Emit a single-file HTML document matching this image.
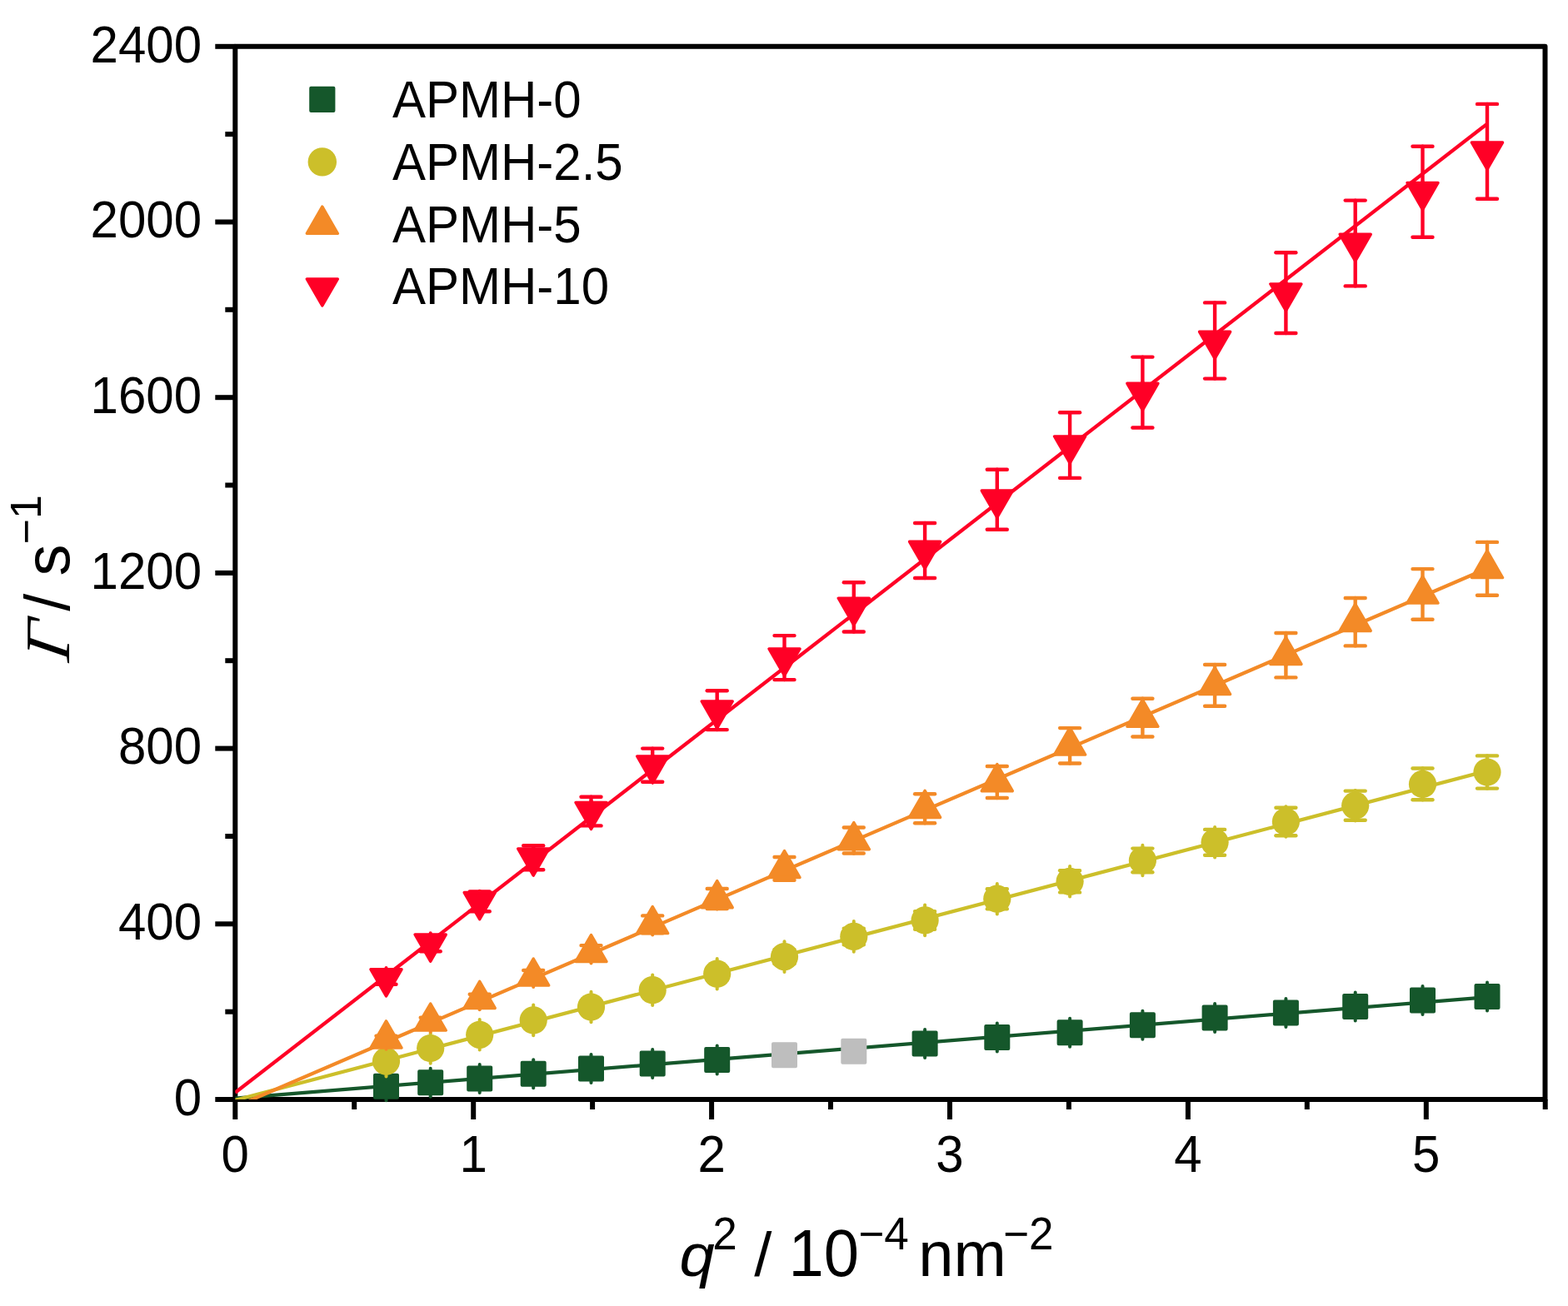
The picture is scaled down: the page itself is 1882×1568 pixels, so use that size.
<!DOCTYPE html>
<html><head><meta charset="utf-8"><title>Gamma vs q2</title>
<style>html,body{margin:0;padding:0;background:#fff;}svg{display:block;}</style>
</head><body>
<svg width="1882" height="1568" viewBox="0 0 1882 1568">
<defs><clipPath id="pc"><rect x="282.3" y="55.8" width="1572.2" height="1264.2"/></clipPath></defs>
<rect width="1882" height="1568" fill="#fff"/>
<g stroke="#000" stroke-width="6" fill="none">
<rect x="282.3" y="55.8" width="1572.2" height="1264.2" stroke-linejoin="round"/>
<line x1="282.3" y1="1320.0" x2="282.3" y2="1344.0"/>
<line x1="425.2" y1="1320.0" x2="425.2" y2="1332.0"/>
<line x1="568.2" y1="1320.0" x2="568.2" y2="1344.0"/>
<line x1="711.1" y1="1320.0" x2="711.1" y2="1332.0"/>
<line x1="854.1" y1="1320.0" x2="854.1" y2="1344.0"/>
<line x1="997.0" y1="1320.0" x2="997.0" y2="1332.0"/>
<line x1="1140.0" y1="1320.0" x2="1140.0" y2="1344.0"/>
<line x1="1282.9" y1="1320.0" x2="1282.9" y2="1332.0"/>
<line x1="1425.9" y1="1320.0" x2="1425.9" y2="1344.0"/>
<line x1="1568.8" y1="1320.0" x2="1568.8" y2="1332.0"/>
<line x1="1711.8" y1="1320.0" x2="1711.8" y2="1344.0"/>
<line x1="1854.7" y1="1320.0" x2="1854.7" y2="1332.0"/>
<line x1="258.3" y1="1320.0" x2="282.3" y2="1320.0"/>
<line x1="270.3" y1="1214.7" x2="282.3" y2="1214.7"/>
<line x1="258.3" y1="1109.3" x2="282.3" y2="1109.3"/>
<line x1="270.3" y1="1004.0" x2="282.3" y2="1004.0"/>
<line x1="258.3" y1="898.6" x2="282.3" y2="898.6"/>
<line x1="270.3" y1="793.2" x2="282.3" y2="793.2"/>
<line x1="258.3" y1="687.9" x2="282.3" y2="687.9"/>
<line x1="270.3" y1="582.5" x2="282.3" y2="582.5"/>
<line x1="258.3" y1="477.2" x2="282.3" y2="477.2"/>
<line x1="270.3" y1="371.8" x2="282.3" y2="371.8"/>
<line x1="258.3" y1="266.5" x2="282.3" y2="266.5"/>
<line x1="270.3" y1="161.1" x2="282.3" y2="161.1"/>
<line x1="258.3" y1="55.8" x2="282.3" y2="55.8"/>
</g>
<g clip-path="url(#pc)" fill="none" stroke-width="4.3" stroke-linecap="butt">
<line x1="282.3" y1="1318.6" x2="1785.0" y2="1197.2" stroke="#15572B"/>
<line x1="282.3" y1="1320.8" x2="1785.0" y2="925.5" stroke="#CCBF2A"/>
<line x1="282.3" y1="1328.8" x2="1785.0" y2="682.5" stroke="#F38A27"/>
<line x1="282.3" y1="1311.8" x2="1785.0" y2="148.7" stroke="#FF0026"/>
</g>
<g>
<line x1="463.5" y1="1287.3" x2="463.5" y2="1321.3" stroke="#15572B" stroke-width="4.0" stroke-linecap="round"/>
<rect x="448.8" y="1289.6" width="29.4" height="29.4" rx="1.2" fill="#15572B" stroke="#15572B" stroke-width="1.6" stroke-linejoin="round"/>
<line x1="516.7" y1="1282.8" x2="516.7" y2="1316.8" stroke="#15572B" stroke-width="4.0" stroke-linecap="round"/>
<rect x="502.0" y="1285.1" width="29.4" height="29.4" rx="1.2" fill="#15572B" stroke="#15572B" stroke-width="1.6" stroke-linejoin="round"/>
<line x1="575.7" y1="1278.0" x2="575.7" y2="1312.0" stroke="#15572B" stroke-width="4.0" stroke-linecap="round"/>
<rect x="561.0" y="1280.3" width="29.4" height="29.4" rx="1.2" fill="#15572B" stroke="#15572B" stroke-width="1.6" stroke-linejoin="round"/>
<line x1="640.2" y1="1272.2" x2="640.2" y2="1306.2" stroke="#15572B" stroke-width="4.0" stroke-linecap="round"/>
<rect x="625.5" y="1274.5" width="29.4" height="29.4" rx="1.2" fill="#15572B" stroke="#15572B" stroke-width="1.6" stroke-linejoin="round"/>
<line x1="709.5" y1="1266.0" x2="709.5" y2="1300.0" stroke="#15572B" stroke-width="4.0" stroke-linecap="round"/>
<rect x="694.8" y="1268.3" width="29.4" height="29.4" rx="1.2" fill="#15572B" stroke="#15572B" stroke-width="1.6" stroke-linejoin="round"/>
<line x1="783.2" y1="1260.0" x2="783.2" y2="1294.0" stroke="#15572B" stroke-width="4.0" stroke-linecap="round"/>
<rect x="768.5" y="1262.3" width="29.4" height="29.4" rx="1.2" fill="#15572B" stroke="#15572B" stroke-width="1.6" stroke-linejoin="round"/>
<line x1="860.7" y1="1255.6" x2="860.7" y2="1289.6" stroke="#15572B" stroke-width="4.0" stroke-linecap="round"/>
<rect x="846.0" y="1257.9" width="29.4" height="29.4" rx="1.2" fill="#15572B" stroke="#15572B" stroke-width="1.6" stroke-linejoin="round"/>
<rect x="926.8" y="1252.1" width="29.4" height="29.4" rx="1.2" fill="#BEBEBE" stroke="#BEBEBE" stroke-width="1.6" stroke-linejoin="round"/>
<rect x="1010.1" y="1247.6" width="29.4" height="29.4" rx="1.2" fill="#BEBEBE" stroke="#BEBEBE" stroke-width="1.6" stroke-linejoin="round"/>
<line x1="1110.1" y1="1236.0" x2="1110.1" y2="1270.0" stroke="#15572B" stroke-width="4.0" stroke-linecap="round"/>
<rect x="1095.4" y="1238.3" width="29.4" height="29.4" rx="1.2" fill="#15572B" stroke="#15572B" stroke-width="1.6" stroke-linejoin="round"/>
<line x1="1196.8" y1="1228.5" x2="1196.8" y2="1262.5" stroke="#15572B" stroke-width="4.0" stroke-linecap="round"/>
<rect x="1182.1" y="1230.8" width="29.4" height="29.4" rx="1.2" fill="#15572B" stroke="#15572B" stroke-width="1.6" stroke-linejoin="round"/>
<line x1="1284.1" y1="1222.8" x2="1284.1" y2="1256.8" stroke="#15572B" stroke-width="4.0" stroke-linecap="round"/>
<rect x="1269.4" y="1225.1" width="29.4" height="29.4" rx="1.2" fill="#15572B" stroke="#15572B" stroke-width="1.6" stroke-linejoin="round"/>
<line x1="1371.4" y1="1213.8" x2="1371.4" y2="1247.8" stroke="#15572B" stroke-width="4.0" stroke-linecap="round"/>
<rect x="1356.7" y="1216.1" width="29.4" height="29.4" rx="1.2" fill="#15572B" stroke="#15572B" stroke-width="1.6" stroke-linejoin="round"/>
<line x1="1458.1" y1="1204.9" x2="1458.1" y2="1238.9" stroke="#15572B" stroke-width="4.0" stroke-linecap="round"/>
<rect x="1443.4" y="1207.2" width="29.4" height="29.4" rx="1.2" fill="#15572B" stroke="#15572B" stroke-width="1.6" stroke-linejoin="round"/>
<line x1="1543.4" y1="1199.0" x2="1543.4" y2="1233.0" stroke="#15572B" stroke-width="4.0" stroke-linecap="round"/>
<rect x="1528.7" y="1201.3" width="29.4" height="29.4" rx="1.2" fill="#15572B" stroke="#15572B" stroke-width="1.6" stroke-linejoin="round"/>
<line x1="1626.7" y1="1191.5" x2="1626.7" y2="1225.5" stroke="#15572B" stroke-width="4.0" stroke-linecap="round"/>
<rect x="1612.0" y="1193.8" width="29.4" height="29.4" rx="1.2" fill="#15572B" stroke="#15572B" stroke-width="1.6" stroke-linejoin="round"/>
<line x1="1707.5" y1="1183.9" x2="1707.5" y2="1217.9" stroke="#15572B" stroke-width="4.0" stroke-linecap="round"/>
<rect x="1692.8" y="1186.2" width="29.4" height="29.4" rx="1.2" fill="#15572B" stroke="#15572B" stroke-width="1.6" stroke-linejoin="round"/>
<line x1="1785.0" y1="1179.4" x2="1785.0" y2="1213.4" stroke="#15572B" stroke-width="4.0" stroke-linecap="round"/>
<rect x="1770.3" y="1181.7" width="29.4" height="29.4" rx="1.2" fill="#15572B" stroke="#15572B" stroke-width="1.6" stroke-linejoin="round"/>
</g>
<g>
<line x1="463.5" y1="1255.9" x2="463.5" y2="1292.5" stroke="#CCBF2A" stroke-width="4.0" stroke-linecap="round"/>
<line x1="463.5" y1="1271.9" x2="463.5" y2="1276.5" stroke="#CCBF2A" stroke-width="4.4" stroke-linecap="round"/><line x1="451.5" y1="1271.9" x2="475.5" y2="1271.9" stroke="#CCBF2A" stroke-width="4.4" stroke-linecap="round"/><line x1="451.5" y1="1276.5" x2="475.5" y2="1276.5" stroke="#CCBF2A" stroke-width="4.4" stroke-linecap="round"/>
<circle cx="463.5" cy="1274.2" r="16.6" fill="#CCBF2A"/>
<line x1="516.7" y1="1240.2" x2="516.7" y2="1276.8" stroke="#CCBF2A" stroke-width="4.0" stroke-linecap="round"/>
<line x1="516.7" y1="1255.4" x2="516.7" y2="1261.6" stroke="#CCBF2A" stroke-width="4.4" stroke-linecap="round"/><line x1="504.7" y1="1255.4" x2="528.7" y2="1255.4" stroke="#CCBF2A" stroke-width="4.4" stroke-linecap="round"/><line x1="504.7" y1="1261.6" x2="528.7" y2="1261.6" stroke="#CCBF2A" stroke-width="4.4" stroke-linecap="round"/>
<circle cx="516.7" cy="1258.5" r="16.6" fill="#CCBF2A"/>
<line x1="575.7" y1="1224.0" x2="575.7" y2="1260.6" stroke="#CCBF2A" stroke-width="4.0" stroke-linecap="round"/>
<line x1="575.7" y1="1238.4" x2="575.7" y2="1246.2" stroke="#CCBF2A" stroke-width="4.4" stroke-linecap="round"/><line x1="563.7" y1="1238.4" x2="587.7" y2="1238.4" stroke="#CCBF2A" stroke-width="4.4" stroke-linecap="round"/><line x1="563.7" y1="1246.2" x2="587.7" y2="1246.2" stroke="#CCBF2A" stroke-width="4.4" stroke-linecap="round"/>
<circle cx="575.7" cy="1242.3" r="16.6" fill="#CCBF2A"/>
<line x1="640.2" y1="1206.6" x2="640.2" y2="1243.2" stroke="#CCBF2A" stroke-width="4.0" stroke-linecap="round"/>
<line x1="640.2" y1="1220.1" x2="640.2" y2="1229.7" stroke="#CCBF2A" stroke-width="4.4" stroke-linecap="round"/><line x1="628.2" y1="1220.1" x2="652.2" y2="1220.1" stroke="#CCBF2A" stroke-width="4.4" stroke-linecap="round"/><line x1="628.2" y1="1229.7" x2="652.2" y2="1229.7" stroke="#CCBF2A" stroke-width="4.4" stroke-linecap="round"/>
<circle cx="640.2" cy="1224.9" r="16.6" fill="#CCBF2A"/>
<line x1="709.5" y1="1190.7" x2="709.5" y2="1227.3" stroke="#CCBF2A" stroke-width="4.0" stroke-linecap="round"/>
<line x1="709.5" y1="1203.5" x2="709.5" y2="1214.5" stroke="#CCBF2A" stroke-width="4.4" stroke-linecap="round"/><line x1="697.5" y1="1203.5" x2="721.5" y2="1203.5" stroke="#CCBF2A" stroke-width="4.4" stroke-linecap="round"/><line x1="697.5" y1="1214.5" x2="721.5" y2="1214.5" stroke="#CCBF2A" stroke-width="4.4" stroke-linecap="round"/>
<circle cx="709.5" cy="1209.0" r="16.6" fill="#CCBF2A"/>
<line x1="783.2" y1="1170.4" x2="783.2" y2="1207.0" stroke="#CCBF2A" stroke-width="4.0" stroke-linecap="round"/>
<line x1="783.2" y1="1182.1" x2="783.2" y2="1195.3" stroke="#CCBF2A" stroke-width="4.4" stroke-linecap="round"/><line x1="771.2" y1="1182.1" x2="795.2" y2="1182.1" stroke="#CCBF2A" stroke-width="4.4" stroke-linecap="round"/><line x1="771.2" y1="1195.3" x2="795.2" y2="1195.3" stroke="#CCBF2A" stroke-width="4.4" stroke-linecap="round"/>
<circle cx="783.2" cy="1188.7" r="16.6" fill="#CCBF2A"/>
<line x1="860.7" y1="1150.9" x2="860.7" y2="1187.5" stroke="#CCBF2A" stroke-width="4.0" stroke-linecap="round"/>
<line x1="860.7" y1="1161.7" x2="860.7" y2="1176.7" stroke="#CCBF2A" stroke-width="4.4" stroke-linecap="round"/><line x1="848.7" y1="1161.7" x2="872.7" y2="1161.7" stroke="#CCBF2A" stroke-width="4.4" stroke-linecap="round"/><line x1="848.7" y1="1176.7" x2="872.7" y2="1176.7" stroke="#CCBF2A" stroke-width="4.4" stroke-linecap="round"/>
<circle cx="860.7" cy="1169.2" r="16.6" fill="#CCBF2A"/>
<line x1="941.5" y1="1130.3" x2="941.5" y2="1166.9" stroke="#CCBF2A" stroke-width="4.0" stroke-linecap="round"/>
<line x1="941.5" y1="1140.0" x2="941.5" y2="1157.2" stroke="#CCBF2A" stroke-width="4.4" stroke-linecap="round"/><line x1="929.5" y1="1140.0" x2="953.5" y2="1140.0" stroke="#CCBF2A" stroke-width="4.4" stroke-linecap="round"/><line x1="929.5" y1="1157.2" x2="953.5" y2="1157.2" stroke="#CCBF2A" stroke-width="4.4" stroke-linecap="round"/>
<circle cx="941.5" cy="1148.6" r="16.6" fill="#CCBF2A"/>
<line x1="1024.8" y1="1106.1" x2="1024.8" y2="1142.7" stroke="#CCBF2A" stroke-width="4.0" stroke-linecap="round"/>
<line x1="1024.8" y1="1114.6" x2="1024.8" y2="1134.2" stroke="#CCBF2A" stroke-width="4.4" stroke-linecap="round"/><line x1="1012.8" y1="1114.6" x2="1036.8" y2="1114.6" stroke="#CCBF2A" stroke-width="4.4" stroke-linecap="round"/><line x1="1012.8" y1="1134.2" x2="1036.8" y2="1134.2" stroke="#CCBF2A" stroke-width="4.4" stroke-linecap="round"/>
<circle cx="1024.8" cy="1124.4" r="16.6" fill="#CCBF2A"/>
<line x1="1110.1" y1="1086.6" x2="1110.1" y2="1123.2" stroke="#CCBF2A" stroke-width="4.0" stroke-linecap="round"/>
<line x1="1110.1" y1="1094.1" x2="1110.1" y2="1115.7" stroke="#CCBF2A" stroke-width="4.4" stroke-linecap="round"/><line x1="1098.1" y1="1094.1" x2="1122.1" y2="1094.1" stroke="#CCBF2A" stroke-width="4.4" stroke-linecap="round"/><line x1="1098.1" y1="1115.7" x2="1122.1" y2="1115.7" stroke="#CCBF2A" stroke-width="4.4" stroke-linecap="round"/>
<circle cx="1110.1" cy="1104.9" r="16.6" fill="#CCBF2A"/>
<line x1="1196.8" y1="1060.9" x2="1196.8" y2="1097.5" stroke="#CCBF2A" stroke-width="4.0" stroke-linecap="round"/>
<line x1="1196.8" y1="1067.2" x2="1196.8" y2="1091.2" stroke="#CCBF2A" stroke-width="4.4" stroke-linecap="round"/><line x1="1184.8" y1="1067.2" x2="1208.8" y2="1067.2" stroke="#CCBF2A" stroke-width="4.4" stroke-linecap="round"/><line x1="1184.8" y1="1091.2" x2="1208.8" y2="1091.2" stroke="#CCBF2A" stroke-width="4.4" stroke-linecap="round"/>
<circle cx="1196.8" cy="1079.2" r="16.6" fill="#CCBF2A"/>
<line x1="1284.1" y1="1040.0" x2="1284.1" y2="1076.6" stroke="#CCBF2A" stroke-width="4.0" stroke-linecap="round"/>
<line x1="1284.1" y1="1045.2" x2="1284.1" y2="1071.4" stroke="#CCBF2A" stroke-width="4.4" stroke-linecap="round"/><line x1="1272.1" y1="1045.2" x2="1296.1" y2="1045.2" stroke="#CCBF2A" stroke-width="4.4" stroke-linecap="round"/><line x1="1272.1" y1="1071.4" x2="1296.1" y2="1071.4" stroke="#CCBF2A" stroke-width="4.4" stroke-linecap="round"/>
<circle cx="1284.1" cy="1058.3" r="16.6" fill="#CCBF2A"/>
<line x1="1371.4" y1="1014.7" x2="1371.4" y2="1051.3" stroke="#CCBF2A" stroke-width="4.0" stroke-linecap="round"/>
<line x1="1371.4" y1="1018.6" x2="1371.4" y2="1047.3" stroke="#CCBF2A" stroke-width="4.4" stroke-linecap="round"/><line x1="1359.4" y1="1018.6" x2="1383.4" y2="1018.6" stroke="#CCBF2A" stroke-width="4.4" stroke-linecap="round"/><line x1="1359.4" y1="1047.3" x2="1383.4" y2="1047.3" stroke="#CCBF2A" stroke-width="4.4" stroke-linecap="round"/>
<circle cx="1371.4" cy="1033.0" r="16.6" fill="#CCBF2A"/>
<line x1="1458.1" y1="993.0" x2="1458.1" y2="1029.6" stroke="#CCBF2A" stroke-width="4.0" stroke-linecap="round"/>
<line x1="1458.1" y1="995.9" x2="1458.1" y2="1026.7" stroke="#CCBF2A" stroke-width="4.4" stroke-linecap="round"/><line x1="1446.1" y1="995.9" x2="1470.1" y2="995.9" stroke="#CCBF2A" stroke-width="4.4" stroke-linecap="round"/><line x1="1446.1" y1="1026.7" x2="1470.1" y2="1026.7" stroke="#CCBF2A" stroke-width="4.4" stroke-linecap="round"/>
<circle cx="1458.1" cy="1011.3" r="16.6" fill="#CCBF2A"/>
<line x1="1543.4" y1="968.2" x2="1543.4" y2="1004.8" stroke="#CCBF2A" stroke-width="4.0" stroke-linecap="round"/>
<line x1="1543.4" y1="969.8" x2="1543.4" y2="1003.2" stroke="#CCBF2A" stroke-width="4.4" stroke-linecap="round"/><line x1="1531.4" y1="969.8" x2="1555.4" y2="969.8" stroke="#CCBF2A" stroke-width="4.4" stroke-linecap="round"/><line x1="1531.4" y1="1003.2" x2="1555.4" y2="1003.2" stroke="#CCBF2A" stroke-width="4.4" stroke-linecap="round"/>
<circle cx="1543.4" cy="986.5" r="16.6" fill="#CCBF2A"/>
<line x1="1626.7" y1="948.9" x2="1626.7" y2="985.5" stroke="#CCBF2A" stroke-width="4.0" stroke-linecap="round"/>
<line x1="1626.7" y1="949.6" x2="1626.7" y2="984.8" stroke="#CCBF2A" stroke-width="4.4" stroke-linecap="round"/><line x1="1614.7" y1="949.6" x2="1638.7" y2="949.6" stroke="#CCBF2A" stroke-width="4.4" stroke-linecap="round"/><line x1="1614.7" y1="984.8" x2="1638.7" y2="984.8" stroke="#CCBF2A" stroke-width="4.4" stroke-linecap="round"/>
<circle cx="1626.7" cy="967.2" r="16.6" fill="#CCBF2A"/>
<line x1="1707.5" y1="923.1" x2="1707.5" y2="959.7" stroke="#CCBF2A" stroke-width="4.0" stroke-linecap="round"/>
<line x1="1707.5" y1="922.5" x2="1707.5" y2="960.3" stroke="#CCBF2A" stroke-width="4.4" stroke-linecap="round"/><line x1="1695.5" y1="922.5" x2="1719.5" y2="922.5" stroke="#CCBF2A" stroke-width="4.4" stroke-linecap="round"/><line x1="1695.5" y1="960.3" x2="1719.5" y2="960.3" stroke="#CCBF2A" stroke-width="4.4" stroke-linecap="round"/>
<circle cx="1707.5" cy="941.4" r="16.6" fill="#CCBF2A"/>
<line x1="1785.0" y1="908.7" x2="1785.0" y2="945.3" stroke="#CCBF2A" stroke-width="4.0" stroke-linecap="round"/>
<line x1="1785.0" y1="907.4" x2="1785.0" y2="946.6" stroke="#CCBF2A" stroke-width="4.4" stroke-linecap="round"/><line x1="1773.0" y1="907.4" x2="1797.0" y2="907.4" stroke="#CCBF2A" stroke-width="4.4" stroke-linecap="round"/><line x1="1773.0" y1="946.6" x2="1797.0" y2="946.6" stroke="#CCBF2A" stroke-width="4.4" stroke-linecap="round"/>
<circle cx="1785.0" cy="927.0" r="16.6" fill="#CCBF2A"/>
</g>
<g>
<line x1="463.5" y1="1234.8" x2="463.5" y2="1259.8" stroke="#F38A27" stroke-width="4.0" stroke-linecap="round"/>
<line x1="463.5" y1="1243.7" x2="463.5" y2="1250.9" stroke="#F38A27" stroke-width="4.4" stroke-linecap="round"/><line x1="451.5" y1="1243.7" x2="475.5" y2="1243.7" stroke="#F38A27" stroke-width="4.4" stroke-linecap="round"/><line x1="451.5" y1="1250.9" x2="475.5" y2="1250.9" stroke="#F38A27" stroke-width="4.4" stroke-linecap="round"/>
<polygon points="463.5,1225.9 482.0,1258.0 445.0,1258.0" fill="#F38A27" stroke="#F38A27" stroke-width="3.5" stroke-linejoin="round"/>
<line x1="516.7" y1="1213.9" x2="516.7" y2="1238.9" stroke="#F38A27" stroke-width="4.0" stroke-linecap="round"/>
<line x1="516.7" y1="1221.7" x2="516.7" y2="1231.1" stroke="#F38A27" stroke-width="4.4" stroke-linecap="round"/><line x1="504.7" y1="1221.7" x2="528.7" y2="1221.7" stroke="#F38A27" stroke-width="4.4" stroke-linecap="round"/><line x1="504.7" y1="1231.1" x2="528.7" y2="1231.1" stroke="#F38A27" stroke-width="4.4" stroke-linecap="round"/>
<polygon points="516.7,1205.0 535.2,1237.1 498.2,1237.1" fill="#F38A27" stroke="#F38A27" stroke-width="3.5" stroke-linejoin="round"/>
<line x1="575.7" y1="1187.2" x2="575.7" y2="1212.2" stroke="#F38A27" stroke-width="4.0" stroke-linecap="round"/>
<line x1="575.7" y1="1193.7" x2="575.7" y2="1205.7" stroke="#F38A27" stroke-width="4.4" stroke-linecap="round"/><line x1="563.7" y1="1193.7" x2="587.7" y2="1193.7" stroke="#F38A27" stroke-width="4.4" stroke-linecap="round"/><line x1="563.7" y1="1205.7" x2="587.7" y2="1205.7" stroke="#F38A27" stroke-width="4.4" stroke-linecap="round"/>
<polygon points="575.7,1178.3 594.2,1210.4 557.2,1210.4" fill="#F38A27" stroke="#F38A27" stroke-width="3.5" stroke-linejoin="round"/>
<line x1="640.2" y1="1159.9" x2="640.2" y2="1184.9" stroke="#F38A27" stroke-width="4.0" stroke-linecap="round"/>
<line x1="640.2" y1="1165.0" x2="640.2" y2="1179.8" stroke="#F38A27" stroke-width="4.4" stroke-linecap="round"/><line x1="628.2" y1="1165.0" x2="652.2" y2="1165.0" stroke="#F38A27" stroke-width="4.4" stroke-linecap="round"/><line x1="628.2" y1="1179.8" x2="652.2" y2="1179.8" stroke="#F38A27" stroke-width="4.4" stroke-linecap="round"/>
<polygon points="640.2,1151.0 658.7,1183.1 621.7,1183.1" fill="#F38A27" stroke="#F38A27" stroke-width="3.5" stroke-linejoin="round"/>
<line x1="709.5" y1="1131.4" x2="709.5" y2="1156.4" stroke="#F38A27" stroke-width="4.0" stroke-linecap="round"/>
<line x1="709.5" y1="1135.1" x2="709.5" y2="1152.7" stroke="#F38A27" stroke-width="4.4" stroke-linecap="round"/><line x1="697.5" y1="1135.1" x2="721.5" y2="1135.1" stroke="#F38A27" stroke-width="4.4" stroke-linecap="round"/><line x1="697.5" y1="1152.7" x2="721.5" y2="1152.7" stroke="#F38A27" stroke-width="4.4" stroke-linecap="round"/>
<polygon points="709.5,1122.5 728.0,1154.6 691.0,1154.6" fill="#F38A27" stroke="#F38A27" stroke-width="3.5" stroke-linejoin="round"/>
<line x1="783.2" y1="1097.4" x2="783.2" y2="1122.4" stroke="#F38A27" stroke-width="4.0" stroke-linecap="round"/>
<line x1="783.2" y1="1099.4" x2="783.2" y2="1120.4" stroke="#F38A27" stroke-width="4.4" stroke-linecap="round"/><line x1="771.2" y1="1099.4" x2="795.2" y2="1099.4" stroke="#F38A27" stroke-width="4.4" stroke-linecap="round"/><line x1="771.2" y1="1120.4" x2="795.2" y2="1120.4" stroke="#F38A27" stroke-width="4.4" stroke-linecap="round"/>
<polygon points="783.2,1088.5 801.7,1120.6 764.7,1120.6" fill="#F38A27" stroke="#F38A27" stroke-width="3.5" stroke-linejoin="round"/>
<line x1="860.7" y1="1066.5" x2="860.7" y2="1091.5" stroke="#F38A27" stroke-width="4.0" stroke-linecap="round"/>
<line x1="860.7" y1="1067.0" x2="860.7" y2="1091.0" stroke="#F38A27" stroke-width="4.4" stroke-linecap="round"/><line x1="848.7" y1="1067.0" x2="872.7" y2="1067.0" stroke="#F38A27" stroke-width="4.4" stroke-linecap="round"/><line x1="848.7" y1="1091.0" x2="872.7" y2="1091.0" stroke="#F38A27" stroke-width="4.4" stroke-linecap="round"/>
<polygon points="860.7,1057.6 879.2,1089.7 842.2,1089.7" fill="#F38A27" stroke="#F38A27" stroke-width="3.5" stroke-linejoin="round"/>
<line x1="941.5" y1="1030.4" x2="941.5" y2="1055.4" stroke="#F38A27" stroke-width="4.0" stroke-linecap="round"/>
<line x1="941.5" y1="1029.0" x2="941.5" y2="1056.8" stroke="#F38A27" stroke-width="4.4" stroke-linecap="round"/><line x1="929.5" y1="1029.0" x2="953.5" y2="1029.0" stroke="#F38A27" stroke-width="4.4" stroke-linecap="round"/><line x1="929.5" y1="1056.8" x2="953.5" y2="1056.8" stroke="#F38A27" stroke-width="4.4" stroke-linecap="round"/>
<polygon points="941.5,1021.5 960.0,1053.6 923.0,1053.6" fill="#F38A27" stroke="#F38A27" stroke-width="3.5" stroke-linejoin="round"/>
<line x1="1024.8" y1="996.5" x2="1024.8" y2="1021.5" stroke="#F38A27" stroke-width="4.0" stroke-linecap="round"/>
<line x1="1024.8" y1="993.5" x2="1024.8" y2="1024.5" stroke="#F38A27" stroke-width="4.4" stroke-linecap="round"/><line x1="1012.8" y1="993.5" x2="1036.8" y2="993.5" stroke="#F38A27" stroke-width="4.4" stroke-linecap="round"/><line x1="1012.8" y1="1024.5" x2="1036.8" y2="1024.5" stroke="#F38A27" stroke-width="4.4" stroke-linecap="round"/>
<polygon points="1024.8,987.6 1043.3,1019.7 1006.3,1019.7" fill="#F38A27" stroke="#F38A27" stroke-width="3.5" stroke-linejoin="round"/>
<line x1="1110.1" y1="958.2" x2="1110.1" y2="983.2" stroke="#F38A27" stroke-width="4.0" stroke-linecap="round"/>
<line x1="1110.1" y1="953.2" x2="1110.1" y2="988.2" stroke="#F38A27" stroke-width="4.4" stroke-linecap="round"/><line x1="1098.1" y1="953.2" x2="1122.1" y2="953.2" stroke="#F38A27" stroke-width="4.4" stroke-linecap="round"/><line x1="1098.1" y1="988.2" x2="1122.1" y2="988.2" stroke="#F38A27" stroke-width="4.4" stroke-linecap="round"/>
<polygon points="1110.1,949.3 1128.6,981.4 1091.6,981.4" fill="#F38A27" stroke="#F38A27" stroke-width="3.5" stroke-linejoin="round"/>
<line x1="1196.8" y1="926.5" x2="1196.8" y2="951.5" stroke="#F38A27" stroke-width="4.0" stroke-linecap="round"/>
<line x1="1196.8" y1="920.0" x2="1196.8" y2="958.0" stroke="#F38A27" stroke-width="4.4" stroke-linecap="round"/><line x1="1184.8" y1="920.0" x2="1208.8" y2="920.0" stroke="#F38A27" stroke-width="4.4" stroke-linecap="round"/><line x1="1184.8" y1="958.0" x2="1208.8" y2="958.0" stroke="#F38A27" stroke-width="4.4" stroke-linecap="round"/>
<polygon points="1196.8,917.6 1215.3,949.7 1178.3,949.7" fill="#F38A27" stroke="#F38A27" stroke-width="3.5" stroke-linejoin="round"/>
<line x1="1284.1" y1="882.8" x2="1284.1" y2="907.8" stroke="#F38A27" stroke-width="4.0" stroke-linecap="round"/>
<line x1="1284.1" y1="874.1" x2="1284.1" y2="916.5" stroke="#F38A27" stroke-width="4.4" stroke-linecap="round"/><line x1="1272.1" y1="874.1" x2="1296.1" y2="874.1" stroke="#F38A27" stroke-width="4.4" stroke-linecap="round"/><line x1="1272.1" y1="916.5" x2="1296.1" y2="916.5" stroke="#F38A27" stroke-width="4.4" stroke-linecap="round"/>
<polygon points="1284.1,873.9 1302.6,906.0 1265.6,906.0" fill="#F38A27" stroke="#F38A27" stroke-width="3.5" stroke-linejoin="round"/>
<line x1="1371.4" y1="849.1" x2="1371.4" y2="874.1" stroke="#F38A27" stroke-width="4.0" stroke-linecap="round"/>
<line x1="1371.4" y1="838.7" x2="1371.4" y2="884.5" stroke="#F38A27" stroke-width="4.4" stroke-linecap="round"/><line x1="1359.4" y1="838.7" x2="1383.4" y2="838.7" stroke="#F38A27" stroke-width="4.4" stroke-linecap="round"/><line x1="1359.4" y1="884.5" x2="1383.4" y2="884.5" stroke="#F38A27" stroke-width="4.4" stroke-linecap="round"/>
<polygon points="1371.4,840.2 1389.9,872.3 1352.9,872.3" fill="#F38A27" stroke="#F38A27" stroke-width="3.5" stroke-linejoin="round"/>
<line x1="1458.1" y1="810.4" x2="1458.1" y2="835.4" stroke="#F38A27" stroke-width="4.0" stroke-linecap="round"/>
<line x1="1458.1" y1="798.0" x2="1458.1" y2="847.8" stroke="#F38A27" stroke-width="4.4" stroke-linecap="round"/><line x1="1446.1" y1="798.0" x2="1470.1" y2="798.0" stroke="#F38A27" stroke-width="4.4" stroke-linecap="round"/><line x1="1446.1" y1="847.8" x2="1470.1" y2="847.8" stroke="#F38A27" stroke-width="4.4" stroke-linecap="round"/>
<polygon points="1458.1,801.5 1476.6,833.6 1439.6,833.6" fill="#F38A27" stroke="#F38A27" stroke-width="3.5" stroke-linejoin="round"/>
<line x1="1543.4" y1="774.2" x2="1543.4" y2="799.2" stroke="#F38A27" stroke-width="4.0" stroke-linecap="round"/>
<line x1="1543.4" y1="760.0" x2="1543.4" y2="813.4" stroke="#F38A27" stroke-width="4.4" stroke-linecap="round"/><line x1="1531.4" y1="760.0" x2="1555.4" y2="760.0" stroke="#F38A27" stroke-width="4.4" stroke-linecap="round"/><line x1="1531.4" y1="813.4" x2="1555.4" y2="813.4" stroke="#F38A27" stroke-width="4.4" stroke-linecap="round"/>
<polygon points="1543.4,765.3 1561.9,797.4 1524.9,797.4" fill="#F38A27" stroke="#F38A27" stroke-width="3.5" stroke-linejoin="round"/>
<line x1="1626.7" y1="734.2" x2="1626.7" y2="759.2" stroke="#F38A27" stroke-width="4.0" stroke-linecap="round"/>
<line x1="1626.7" y1="718.0" x2="1626.7" y2="775.4" stroke="#F38A27" stroke-width="4.4" stroke-linecap="round"/><line x1="1614.7" y1="718.0" x2="1638.7" y2="718.0" stroke="#F38A27" stroke-width="4.4" stroke-linecap="round"/><line x1="1614.7" y1="775.4" x2="1638.7" y2="775.4" stroke="#F38A27" stroke-width="4.4" stroke-linecap="round"/>
<polygon points="1626.7,725.3 1645.2,757.4 1608.2,757.4" fill="#F38A27" stroke="#F38A27" stroke-width="3.5" stroke-linejoin="round"/>
<line x1="1707.5" y1="700.9" x2="1707.5" y2="725.9" stroke="#F38A27" stroke-width="4.0" stroke-linecap="round"/>
<line x1="1707.5" y1="683.1" x2="1707.5" y2="743.7" stroke="#F38A27" stroke-width="4.4" stroke-linecap="round"/><line x1="1695.5" y1="683.1" x2="1719.5" y2="683.1" stroke="#F38A27" stroke-width="4.4" stroke-linecap="round"/><line x1="1695.5" y1="743.7" x2="1719.5" y2="743.7" stroke="#F38A27" stroke-width="4.4" stroke-linecap="round"/>
<polygon points="1707.5,692.0 1726.0,724.1 1689.0,724.1" fill="#F38A27" stroke="#F38A27" stroke-width="3.5" stroke-linejoin="round"/>
<line x1="1785.0" y1="670.3" x2="1785.0" y2="695.3" stroke="#F38A27" stroke-width="4.0" stroke-linecap="round"/>
<line x1="1785.0" y1="650.9" x2="1785.0" y2="714.7" stroke="#F38A27" stroke-width="4.4" stroke-linecap="round"/><line x1="1773.0" y1="650.9" x2="1797.0" y2="650.9" stroke="#F38A27" stroke-width="4.4" stroke-linecap="round"/><line x1="1773.0" y1="714.7" x2="1797.0" y2="714.7" stroke="#F38A27" stroke-width="4.4" stroke-linecap="round"/>
<polygon points="1785.0,661.4 1803.5,693.5 1766.5,693.5" fill="#F38A27" stroke="#F38A27" stroke-width="3.5" stroke-linejoin="round"/>
</g>
<g>
<line x1="463.5" y1="1162.0" x2="463.5" y2="1187.0" stroke="#FF0026" stroke-width="4.0" stroke-linecap="round"/>
<line x1="463.5" y1="1167.2" x2="463.5" y2="1181.8" stroke="#FF0026" stroke-width="4.4" stroke-linecap="round"/><line x1="451.5" y1="1167.2" x2="475.5" y2="1167.2" stroke="#FF0026" stroke-width="4.4" stroke-linecap="round"/><line x1="451.5" y1="1181.8" x2="475.5" y2="1181.8" stroke="#FF0026" stroke-width="4.4" stroke-linecap="round"/>
<polygon points="445.0,1163.8 482.0,1163.8 463.5,1195.9" fill="#FF0026" stroke="#FF0026" stroke-width="3.5" stroke-linejoin="round"/>
<line x1="516.7" y1="1120.3" x2="516.7" y2="1145.3" stroke="#FF0026" stroke-width="4.0" stroke-linecap="round"/>
<line x1="516.7" y1="1123.4" x2="516.7" y2="1142.2" stroke="#FF0026" stroke-width="4.4" stroke-linecap="round"/><line x1="504.7" y1="1123.4" x2="528.7" y2="1123.4" stroke="#FF0026" stroke-width="4.4" stroke-linecap="round"/><line x1="504.7" y1="1142.2" x2="528.7" y2="1142.2" stroke="#FF0026" stroke-width="4.4" stroke-linecap="round"/>
<polygon points="498.2,1122.1 535.2,1122.1 516.7,1154.2" fill="#FF0026" stroke="#FF0026" stroke-width="3.5" stroke-linejoin="round"/>
<line x1="575.7" y1="1069.8" x2="575.7" y2="1094.8" stroke="#FF0026" stroke-width="4.0" stroke-linecap="round"/>
<line x1="575.7" y1="1070.4" x2="575.7" y2="1094.2" stroke="#FF0026" stroke-width="4.4" stroke-linecap="round"/><line x1="563.7" y1="1070.4" x2="587.7" y2="1070.4" stroke="#FF0026" stroke-width="4.4" stroke-linecap="round"/><line x1="563.7" y1="1094.2" x2="587.7" y2="1094.2" stroke="#FF0026" stroke-width="4.4" stroke-linecap="round"/>
<polygon points="557.2,1071.6 594.2,1071.6 575.7,1103.7" fill="#FF0026" stroke="#FF0026" stroke-width="3.5" stroke-linejoin="round"/>
<line x1="640.2" y1="1017.2" x2="640.2" y2="1042.2" stroke="#FF0026" stroke-width="4.0" stroke-linecap="round"/>
<line x1="640.2" y1="1015.2" x2="640.2" y2="1044.2" stroke="#FF0026" stroke-width="4.4" stroke-linecap="round"/><line x1="628.2" y1="1015.2" x2="652.2" y2="1015.2" stroke="#FF0026" stroke-width="4.4" stroke-linecap="round"/><line x1="628.2" y1="1044.2" x2="652.2" y2="1044.2" stroke="#FF0026" stroke-width="4.4" stroke-linecap="round"/>
<polygon points="621.7,1019.0 658.7,1019.0 640.2,1051.1" fill="#FF0026" stroke="#FF0026" stroke-width="3.5" stroke-linejoin="round"/>
<line x1="709.5" y1="961.6" x2="709.5" y2="986.6" stroke="#FF0026" stroke-width="4.0" stroke-linecap="round"/>
<line x1="709.5" y1="956.8" x2="709.5" y2="991.4" stroke="#FF0026" stroke-width="4.4" stroke-linecap="round"/><line x1="697.5" y1="956.8" x2="721.5" y2="956.8" stroke="#FF0026" stroke-width="4.4" stroke-linecap="round"/><line x1="697.5" y1="991.4" x2="721.5" y2="991.4" stroke="#FF0026" stroke-width="4.4" stroke-linecap="round"/>
<polygon points="691.0,963.4 728.0,963.4 709.5,995.5" fill="#FF0026" stroke="#FF0026" stroke-width="3.5" stroke-linejoin="round"/>
<line x1="783.2" y1="906.2" x2="783.2" y2="931.2" stroke="#FF0026" stroke-width="4.0" stroke-linecap="round"/>
<line x1="783.2" y1="898.6" x2="783.2" y2="938.8" stroke="#FF0026" stroke-width="4.4" stroke-linecap="round"/><line x1="771.2" y1="898.6" x2="795.2" y2="898.6" stroke="#FF0026" stroke-width="4.4" stroke-linecap="round"/><line x1="771.2" y1="938.8" x2="795.2" y2="938.8" stroke="#FF0026" stroke-width="4.4" stroke-linecap="round"/>
<polygon points="764.7,908.0 801.7,908.0 783.2,940.1" fill="#FF0026" stroke="#FF0026" stroke-width="3.5" stroke-linejoin="round"/>
<line x1="860.7" y1="840.2" x2="860.7" y2="865.2" stroke="#FF0026" stroke-width="4.0" stroke-linecap="round"/>
<line x1="860.7" y1="829.3" x2="860.7" y2="876.1" stroke="#FF0026" stroke-width="4.4" stroke-linecap="round"/><line x1="848.7" y1="829.3" x2="872.7" y2="829.3" stroke="#FF0026" stroke-width="4.4" stroke-linecap="round"/><line x1="848.7" y1="876.1" x2="872.7" y2="876.1" stroke="#FF0026" stroke-width="4.4" stroke-linecap="round"/>
<polygon points="842.2,842.0 879.2,842.0 860.7,874.1" fill="#FF0026" stroke="#FF0026" stroke-width="3.5" stroke-linejoin="round"/>
<line x1="941.5" y1="777.1" x2="941.5" y2="802.1" stroke="#FF0026" stroke-width="4.0" stroke-linecap="round"/>
<line x1="941.5" y1="763.1" x2="941.5" y2="816.1" stroke="#FF0026" stroke-width="4.4" stroke-linecap="round"/><line x1="929.5" y1="763.1" x2="953.5" y2="763.1" stroke="#FF0026" stroke-width="4.4" stroke-linecap="round"/><line x1="929.5" y1="816.1" x2="953.5" y2="816.1" stroke="#FF0026" stroke-width="4.4" stroke-linecap="round"/>
<polygon points="923.0,778.9 960.0,778.9 941.5,811.0" fill="#FF0026" stroke="#FF0026" stroke-width="3.5" stroke-linejoin="round"/>
<line x1="1024.8" y1="716.4" x2="1024.8" y2="741.4" stroke="#FF0026" stroke-width="4.0" stroke-linecap="round"/>
<line x1="1024.8" y1="699.3" x2="1024.8" y2="758.5" stroke="#FF0026" stroke-width="4.4" stroke-linecap="round"/><line x1="1012.8" y1="699.3" x2="1036.8" y2="699.3" stroke="#FF0026" stroke-width="4.4" stroke-linecap="round"/><line x1="1012.8" y1="758.5" x2="1036.8" y2="758.5" stroke="#FF0026" stroke-width="4.4" stroke-linecap="round"/>
<polygon points="1006.3,718.2 1043.3,718.2 1024.8,750.3" fill="#FF0026" stroke="#FF0026" stroke-width="3.5" stroke-linejoin="round"/>
<line x1="1110.1" y1="648.5" x2="1110.1" y2="673.5" stroke="#FF0026" stroke-width="4.0" stroke-linecap="round"/>
<line x1="1110.1" y1="628.0" x2="1110.1" y2="694.0" stroke="#FF0026" stroke-width="4.4" stroke-linecap="round"/><line x1="1098.1" y1="628.0" x2="1122.1" y2="628.0" stroke="#FF0026" stroke-width="4.4" stroke-linecap="round"/><line x1="1098.1" y1="694.0" x2="1122.1" y2="694.0" stroke="#FF0026" stroke-width="4.4" stroke-linecap="round"/>
<polygon points="1091.6,650.3 1128.6,650.3 1110.1,682.4" fill="#FF0026" stroke="#FF0026" stroke-width="3.5" stroke-linejoin="round"/>
<line x1="1196.8" y1="587.3" x2="1196.8" y2="612.3" stroke="#FF0026" stroke-width="4.0" stroke-linecap="round"/>
<line x1="1196.8" y1="563.8" x2="1196.8" y2="635.8" stroke="#FF0026" stroke-width="4.4" stroke-linecap="round"/><line x1="1184.8" y1="563.8" x2="1208.8" y2="563.8" stroke="#FF0026" stroke-width="4.4" stroke-linecap="round"/><line x1="1184.8" y1="635.8" x2="1208.8" y2="635.8" stroke="#FF0026" stroke-width="4.4" stroke-linecap="round"/>
<polygon points="1178.3,589.1 1215.3,589.1 1196.8,621.2" fill="#FF0026" stroke="#FF0026" stroke-width="3.5" stroke-linejoin="round"/>
<line x1="1284.1" y1="522.1" x2="1284.1" y2="547.1" stroke="#FF0026" stroke-width="4.0" stroke-linecap="round"/>
<line x1="1284.1" y1="495.3" x2="1284.1" y2="573.9" stroke="#FF0026" stroke-width="4.4" stroke-linecap="round"/><line x1="1272.1" y1="495.3" x2="1296.1" y2="495.3" stroke="#FF0026" stroke-width="4.4" stroke-linecap="round"/><line x1="1272.1" y1="573.9" x2="1296.1" y2="573.9" stroke="#FF0026" stroke-width="4.4" stroke-linecap="round"/>
<polygon points="1265.6,523.9 1302.6,523.9 1284.1,556.0" fill="#FF0026" stroke="#FF0026" stroke-width="3.5" stroke-linejoin="round"/>
<line x1="1371.4" y1="458.5" x2="1371.4" y2="483.5" stroke="#FF0026" stroke-width="4.0" stroke-linecap="round"/>
<line x1="1371.4" y1="428.6" x2="1371.4" y2="513.5" stroke="#FF0026" stroke-width="4.4" stroke-linecap="round"/><line x1="1359.4" y1="428.6" x2="1383.4" y2="428.6" stroke="#FF0026" stroke-width="4.4" stroke-linecap="round"/><line x1="1359.4" y1="513.5" x2="1383.4" y2="513.5" stroke="#FF0026" stroke-width="4.4" stroke-linecap="round"/>
<polygon points="1352.9,460.3 1389.9,460.3 1371.4,492.4" fill="#FF0026" stroke="#FF0026" stroke-width="3.5" stroke-linejoin="round"/>
<line x1="1458.1" y1="396.5" x2="1458.1" y2="421.5" stroke="#FF0026" stroke-width="4.0" stroke-linecap="round"/>
<line x1="1458.1" y1="363.4" x2="1458.1" y2="454.6" stroke="#FF0026" stroke-width="4.4" stroke-linecap="round"/><line x1="1446.1" y1="363.4" x2="1470.1" y2="363.4" stroke="#FF0026" stroke-width="4.4" stroke-linecap="round"/><line x1="1446.1" y1="454.6" x2="1470.1" y2="454.6" stroke="#FF0026" stroke-width="4.4" stroke-linecap="round"/>
<polygon points="1439.6,398.3 1476.6,398.3 1458.1,430.4" fill="#FF0026" stroke="#FF0026" stroke-width="3.5" stroke-linejoin="round"/>
<line x1="1543.4" y1="339.1" x2="1543.4" y2="364.1" stroke="#FF0026" stroke-width="4.0" stroke-linecap="round"/>
<line x1="1543.4" y1="303.2" x2="1543.4" y2="400.0" stroke="#FF0026" stroke-width="4.4" stroke-linecap="round"/><line x1="1531.4" y1="303.2" x2="1555.4" y2="303.2" stroke="#FF0026" stroke-width="4.4" stroke-linecap="round"/><line x1="1531.4" y1="400.0" x2="1555.4" y2="400.0" stroke="#FF0026" stroke-width="4.4" stroke-linecap="round"/>
<polygon points="1524.9,340.9 1561.9,340.9 1543.4,373.0" fill="#FF0026" stroke="#FF0026" stroke-width="3.5" stroke-linejoin="round"/>
<line x1="1626.7" y1="279.5" x2="1626.7" y2="304.5" stroke="#FF0026" stroke-width="4.0" stroke-linecap="round"/>
<line x1="1626.7" y1="240.6" x2="1626.7" y2="343.4" stroke="#FF0026" stroke-width="4.4" stroke-linecap="round"/><line x1="1614.7" y1="240.6" x2="1638.7" y2="240.6" stroke="#FF0026" stroke-width="4.4" stroke-linecap="round"/><line x1="1614.7" y1="343.4" x2="1638.7" y2="343.4" stroke="#FF0026" stroke-width="4.4" stroke-linecap="round"/>
<polygon points="1608.2,281.3 1645.2,281.3 1626.7,313.4" fill="#FF0026" stroke="#FF0026" stroke-width="3.5" stroke-linejoin="round"/>
<line x1="1707.5" y1="217.7" x2="1707.5" y2="242.7" stroke="#FF0026" stroke-width="4.0" stroke-linecap="round"/>
<line x1="1707.5" y1="175.7" x2="1707.5" y2="284.7" stroke="#FF0026" stroke-width="4.4" stroke-linecap="round"/><line x1="1695.5" y1="175.7" x2="1719.5" y2="175.7" stroke="#FF0026" stroke-width="4.4" stroke-linecap="round"/><line x1="1695.5" y1="284.7" x2="1719.5" y2="284.7" stroke="#FF0026" stroke-width="4.4" stroke-linecap="round"/>
<polygon points="1689.0,219.5 1726.0,219.5 1707.5,251.6" fill="#FF0026" stroke="#FF0026" stroke-width="3.5" stroke-linejoin="round"/>
<line x1="1785.0" y1="169.3" x2="1785.0" y2="194.3" stroke="#FF0026" stroke-width="4.0" stroke-linecap="round"/>
<line x1="1785.0" y1="124.9" x2="1785.0" y2="238.7" stroke="#FF0026" stroke-width="4.4" stroke-linecap="round"/><line x1="1773.0" y1="124.9" x2="1797.0" y2="124.9" stroke="#FF0026" stroke-width="4.4" stroke-linecap="round"/><line x1="1773.0" y1="238.7" x2="1797.0" y2="238.7" stroke="#FF0026" stroke-width="4.4" stroke-linecap="round"/>
<polygon points="1766.5,171.1 1803.5,171.1 1785.0,203.2" fill="#FF0026" stroke="#FF0026" stroke-width="3.5" stroke-linejoin="round"/>
</g>
<g font-family="Liberation Sans, Arial, sans-serif" fill="#000">
<text transform="translate(282.3,1406.5) scale(1.0,1.04)" font-size="60" text-anchor="middle">0</text>
<text transform="translate(568.2,1406.5) scale(1.0,1.04)" font-size="60" text-anchor="middle">1</text>
<text transform="translate(854.1,1406.5) scale(1.0,1.04)" font-size="60" text-anchor="middle">2</text>
<text transform="translate(1140.0,1406.5) scale(1.0,1.04)" font-size="60" text-anchor="middle">3</text>
<text transform="translate(1425.9,1406.5) scale(1.0,1.04)" font-size="60" text-anchor="middle">4</text>
<text transform="translate(1711.8,1406.5) scale(1.0,1.04)" font-size="60" text-anchor="middle">5</text>
<text transform="translate(242.0,1338.7) scale(1.0,1.04)" font-size="60" text-anchor="end">0</text>
<text transform="translate(242.0,1128.0) scale(1.0,1.04)" font-size="60" text-anchor="end">400</text>
<text transform="translate(242.0,917.3) scale(1.0,1.04)" font-size="60" text-anchor="end">800</text>
<text transform="translate(242.0,706.6) scale(1.0,1.04)" font-size="60" text-anchor="end">1200</text>
<text transform="translate(242.0,495.9) scale(1.0,1.04)" font-size="60" text-anchor="end">1600</text>
<text transform="translate(242.0,285.2) scale(1.0,1.04)" font-size="60" text-anchor="end">2000</text>
<text transform="translate(242.0,74.5) scale(1.0,1.04)" font-size="60" text-anchor="end">2400</text>
</g>
<rect x="372.0" y="104.5" width="29.6" height="29.6" rx="1.2" fill="#15572B" stroke="#15572B" stroke-width="1.6" stroke-linejoin="round"/>
<circle cx="386.8" cy="194.4" r="17.2" fill="#CCBF2A"/>
<polygon points="386.8,248.2 405.3,280.3 368.3,280.3" fill="#F38A27" stroke="#F38A27" stroke-width="3.5" stroke-linejoin="round"/>
<polygon points="368.3,334.9 405.3,334.9 386.8,367.0" fill="#FF0026" stroke="#FF0026" stroke-width="3.5" stroke-linejoin="round"/>
<g font-family="Liberation Sans, Arial, sans-serif" fill="#000">
<text transform="translate(471.0,140.5) scale(1.0,1.04)" font-size="60">APMH-0</text>
<text transform="translate(471.0,215.5) scale(1.0,1.04)" font-size="60">APMH-2.5</text>
<text transform="translate(471.0,290.6) scale(1.0,1.04)" font-size="60">APMH-5</text>
<text transform="translate(471.0,365.4) scale(1.0,1.04)" font-size="60">APMH-10</text>
</g>
<g font-family="Liberation Sans, Arial, sans-serif" fill="#000">
<text transform="translate(815.4,1532.0) scale(1.0,0.955)" font-size="76" font-style="italic">q</text>
<text transform="translate(855.3,1500.0) scale(1.0,1.04)" font-size="53">2</text>
<text transform="translate(905.3,1532.0) scale(1.0,0.985)" font-size="76">/</text>
<text transform="translate(946.5,1532.0) scale(1.0,1.04)" font-size="76">10</text>
<text transform="translate(1030.2,1500.0) scale(1.0,1.04)" font-size="53">&#8722;4</text>
<text transform="translate(1102.3,1532.0) scale(1.0,1.0)" font-size="76">nm</text>
<text transform="translate(1204.1,1500.0) scale(1.0,1.04)" font-size="53">&#8722;2</text>
<text transform="translate(82.5,795.8) rotate(-90) scale(1.08,1) skewX(-8)" font-size="76" font-family="Liberation Serif, Times New Roman, serif" font-style="italic">&#915;</text>
<text transform="translate(82.5,733.7) rotate(-90)" font-size="76"><tspan>/ s</tspan><tspan font-size="52" dy="-34">&#8722;1</tspan></text>
</g>
</svg>
</body></html>
